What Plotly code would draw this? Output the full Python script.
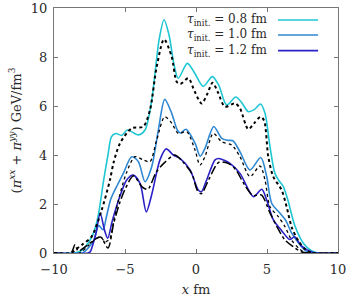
import plotly.graph_objects as go

# ---- data ----
x_08 = [-10, -8.6, -8.2, -7.6, -7.23, -6.9, -6.5, -6.2, -5.95, -5.65, -5.23, -4.84, -4.06, -3.59, -3.12,
        -2.6, -2.25, -1.9, -1.55, -1.25, -0.61, -0.1, 0.51, 1.15, 1.6, 2.16, 2.8, 3.2, 3.68, 4.1, 4.55,
        4.86, 5.21, 5.56, 5.85, 6.15, 6.45, 6.97, 7.56, 8.15, 8.6, 10]
y_08 = [0, 0, 0.05, 0.4, 0.8, 1.48, 2.98, 4.0, 4.75, 4.88, 4.8, 5.02, 4.82, 5.02, 6.24,
        8.7, 9.52, 8.9, 7.7, 7.13, 7.74, 7.35, 6.8, 7.2, 6.85, 6.04, 6.37, 6.15, 5.77, 5.85, 6.08,
        5.7, 4.34, 3.25, 2.95, 2.71, 2.2, 1.1, 0.4, 0.08, 0, 0]

x_08_ref = [-10, -8.8, -8.52, -8.0, -7.35, -6.64, -6.06, -5.8, -5.35, -4.53, -3.71, -3.24, -2.77, -2.25,
            -1.71, -1.36, -1.1, -0.54, -0.1, 0.4, 0.8, 1.17, 1.55, 2.04, 2.75, 3.1, 3.68, 4.1, 4.55, 4.8,
            5.09, 5.44, 6.03, 6.38, 6.73, 7.2, 7.7, 8.2, 10]
y_08_ref = [0, 0, 0.12, 0.35, 0.67, 1.76, 2.98, 3.7, 4.48, 5.09, 5.16, 5.84, 7.6, 8.72,
            8.01, 6.99, 6.9, 7.13, 6.6, 6.1, 6.5, 6.95, 6.55, 5.97, 6.11, 5.9, 5.05, 5.3, 5.56, 5.4,
            3.93, 3.12, 2.57, 1.89, 1.07, 0.5, 0.15, 0, 0]

x_10 = [-10, -8.0, -7.6, -7.2, -6.85, -6.55, -6.3, -6.0, -5.6, -5.12, -4.53, -4.06, -3.59, -3.12, -2.65,
        -2.2, -1.71, -1.3, -1.1, -0.7, -0.07, 0.3, 0.63, 1.25, 1.81, 2.2, 2.6, 3.1, 3.8, 4.56, 4.98,
        5.33, 5.92, 6.3, 6.75, 7.3, 7.7, 8.2, 10]
y_10 = [0, 0, 0.2, 0.5, 1.12, 0.95, 1.5, 2.2, 2.7, 3.25, 3.93, 3.73, 2.91, 3.52, 5.02,
        6.27, 5.7, 5.0, 4.9, 5.05, 4.48, 3.95, 4.27, 5.16, 4.68, 4.6, 4.58, 4.13, 3.39, 3.9, 3.12,
        2.03, 1.62, 1.35, 0.8, 0.35, 0.1, 0, 0]

x_10_ref = [-10, -8.2, -7.6, -7.0, -6.7, -6.4, -6.06, -5.8, -5.4, -4.88, -4.3, -3.71, -3.24, -2.77, -2.2,
            -1.71, -1.25, -0.65, -0.07, 0.28, 0.63, 1.22, 1.81, 2.51, 3.1, 3.8, 4.51, 4.86, 5.21, 5.8,
            6.27, 6.73, 7.3, 7.8, 10]
y_10_ref = [0, 0, 0.3, 0.6, 0.65, 0.45, 0.6, 1.3, 2.3, 3.3, 3.93, 3.8, 3.73, 4.61, 5.56,
            5.3, 4.88, 4.95, 4.2, 3.59, 3.93, 4.88, 4.54, 4.41, 3.93, 3.12, 3.55, 2.98, 1.89, 1.48,
            1.07, 0.53, 0.16, 0, 0]

x_12 = [-10, -7.6, -7.45, -7.05, -6.75, -6.45, -6.22, -5.9, -5.45, -4.88, -4.42, -3.94, -3.5, -3.1,
        -2.54, -2.1, -1.6, -1.13, -0.42, 0.16, 0.38, 0.75, 1.34, 1.6, 2.39, 3.1, 4.04, 4.63, 4.98,
        5.45, 6.05, 6.6, 6.95, 7.4, 8.2, 10]
y_12 = [0, 0, 0.05, 0.8, 1.62, 0.95, 0.6, 1.3, 2.16, 2.98, 3.18, 2.84, 1.68, 2.43,
        3.8, 4.25, 4.0, 3.86, 3.39, 2.57, 2.5, 2.98, 3.8, 3.86, 3.66, 3.25, 2.3, 2.6, 2.16,
        1.35, 0.9, 0.55, 0.66, 0.3, 0.03, 0, 0]

x_12_ref = [-10, -8.8, -8.52, -8.3, -7.8, -7.0, -6.7, -6.2, -5.8, -5.4, -5.0, -4.4, -3.8, -3.4, -2.8,
            -2.2, -1.5, -0.9, -0.3, 0.1, 0.38, 0.9, 1.6, 2.3, 2.8, 3.4, 4.0, 4.6, 5.2, 5.7, 6.27, 6.85,
            7.4, 8.0, 10]
y_12_ref = [0, 0, 0.35, 0.08, 0.25, 0.6, 0.65, 0.2, 1.2, 2.0, 2.6, 3.15, 2.7, 2.6, 3.3,
            3.7, 4.0, 3.7, 3.25, 2.55, 2.42, 3.0, 3.7, 3.65, 3.4, 2.8, 2.35, 2.37, 1.65, 1.07, 0.53, 0.26,
            0.05, 0, 0]

legend_labels = ["<i>τ</i><sub>init.</sub> = 0.8 fm",
                 "<i>τ</i><sub>init.</sub> = 1.0 fm",
                 "<i>τ</i><sub>init.</sub> = 1.2 fm"]
x_tickvals = [-10, -5, 0, 5, 10]
x_ticktext = ["−10", "−5", "0", "5", "10"]
y_tickvals = [0, 2, 4, 6, 8, 10]
y_ticktext = ["0", "2", "4", "6", "8", "10"]

colors = ["#1fc6d3", "#2e88d2", "#2b20c6"]
FONT = "DejaVu Serif"
FS = 13
TXT = "#2a2a2a"

fig = go.Figure()
series = [(x_08, y_08), (x_10, y_10), (x_12, y_12)]
for (xs, ys), c in zip(series, colors):
    fig.add_trace(go.Scatter(x=xs, y=ys, mode="lines",
                             line=dict(color=c, width=1.6, shape="spline", smoothing=0.8),
                             showlegend=False, hoverinfo="skip"))

refs = [(x_08_ref, y_08_ref, "dot", 2.0),
        (x_10_ref, y_10_ref, "dot", 1.3),
        (x_12_ref, y_12_ref, "dashdot", 1.5)]
for xs, ys, dash, w in refs:
    fig.add_trace(go.Scatter(x=xs, y=ys, mode="lines",
                             line=dict(color="black", width=w, dash=dash, shape="spline", smoothing=0.8),
                             showlegend=False, hoverinfo="skip"))

# legend (gnuplot style: text then sample line)
row_y = [0.951, 0.890, 0.826]
for lbl, c, yy in zip(legend_labels, colors, row_y):
    fig.add_annotation(x=0.757, y=yy, xref="paper", yref="paper", text=lbl, showarrow=False,
                       xanchor="right", yanchor="middle", font=dict(family=FONT, size=12, color=TXT))
    fig.add_shape(type="line", xref="paper", yref="paper", x0=0.789, x1=0.93, y0=yy, y1=yy,
                  line=dict(color=c, width=1.6))

axis_common = dict(showline=True, mirror="ticks", linecolor="#777", linewidth=1,
                   ticks="inside", ticklen=4, tickcolor="#777", showgrid=False, zeroline=False,
                   automargin=False, ticklabeloverflow="allow",
                   tickfont=dict(family=FONT, size=FS, color=TXT))

fig.update_layout(
    width=346, height=297,
    margin=dict(l=54, r=8, t=8, b=44),
    font=dict(family=FONT, size=FS, color=TXT),
    paper_bgcolor="white", plot_bgcolor="white",
    xaxis=dict(range=[-10, 10], tickvals=x_tickvals, ticktext=x_ticktext, ticklabelstandoff=4,
               title=dict(text="<i>x</i> fm", font=dict(family=FONT, size=FS, color=TXT), standoff=9),
               **axis_common),
    yaxis=dict(range=[0, 10], tickvals=y_tickvals, ticktext=y_ticktext, ticklabelstandoff=3,
               title=dict(text="(<i>π</i><sup><i>xx</i></sup> + <i>π</i><sup><i>yy</i></sup>) GeV/fm<sup>3</sup>",
                          font=dict(family=FONT, size=FS, color=TXT), standoff=6),
               **axis_common),
)

fig.write_html("out.html", config={"displayModeBar": False, "staticPlot": True},
               post_script="document.body.style.margin='0';document.body.style.overflow='hidden';")
